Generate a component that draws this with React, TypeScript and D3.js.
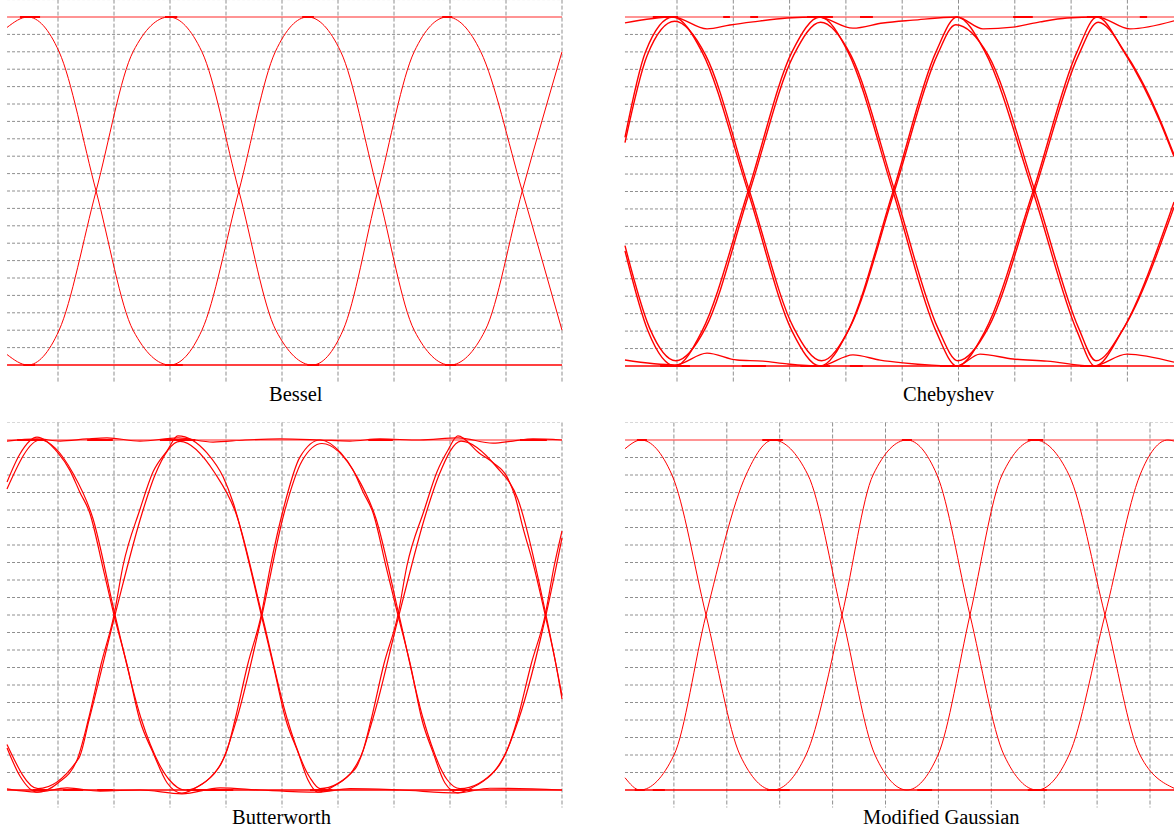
import * as d3 from "d3";

type Pt = [number, number];
type Span = [number, number];

// Eye-diagram traces. x = time in screen divisions, y = level (0 = low rail, 1 = high rail)

// Bessel
const besselA: Pt[] = [[0.09, 0.97], [0.46, 1], [1.02, 0.9], [1.68, 0.5], [2.34, 0.1], [3.0, 0], [3.57, 0.1], [4.23, 0.5], [4.88, 0.9], [5.46, 1], [6.05, 0.9], [6.71, 0.5], [7.36, 0.1], [8.0, 0], [8.63, 0.1], [9.29, 0.5], [10.0, 0.9]];
const besselB: Pt[] = [[0.09, 0.03], [0.46, 0], [1.02, 0.1], [1.68, 0.5], [2.34, 0.9], [2.98, 1], [3.57, 0.9], [4.23, 0.5], [4.89, 0.1], [5.54, 0], [6.09, 0.1], [6.71, 0.5], [7.36, 0.9], [7.95, 1], [8.55, 0.9], [9.29, 0.5], [10.0, 0.1]];
const besselMarksTop: Span[] = [[0.32, 0.68], [2.91, 3.13], [5.36, 5.57], [7.86, 8.04]];
const besselMarksBottom: Span[] = [[0.38, 0.59], [2.91, 3.23], [5.45, 5.66], [7.91, 8.11]];

// Chebyshev
const chebA: Pt[] = [[0.076, 0.655], [0.44, 0.9], [0.929, 1.0], [1.444, 0.9], [2.261, 0.5], [3.043, 0.1], [3.54, 0.0], [4.037, 0.1], [4.837, 0.5], [5.6, 0.9], [5.973, 1.0], [6.471, 0.9], [7.323, 0.5], [8.105, 0.1], [8.425, 0.0], [8.904, 0.1], [9.828, 0.47]];
const chebB: Pt[] = [[0.076, 0.33], [0.485, 0.1], [0.964, 0.0], [1.444, 0.1], [2.261, 0.5], [3.043, 0.9], [3.54, 1.0], [4.037, 0.9], [4.837, 0.5], [5.6, 0.1], [5.973, 0.0], [6.471, 0.1], [7.323, 0.5], [8.105, 0.9], [8.46, 1.0], [8.94, 0.9], [9.579, 0.7], [9.828, 0.6]];
const chebA2: Pt[] = [[0.076, 0.64], [0.47, 0.89], [0.96, 0.988], [1.51, 0.89], [2.29, 0.5], [3.07, 0.11], [3.57, 0.015], [4.07, 0.11], [4.86, 0.5], [5.62, 0.89], [5.95, 0.978], [6.53, 0.89], [7.36, 0.5], [8.13, 0.11], [8.44, 0.015], [8.94, 0.11], [9.828, 0.455]];
const chebB2: Pt[] = [[0.076, 0.345], [0.51, 0.11], [0.98, 0.015], [1.51, 0.11], [2.29, 0.5], [3.07, 0.89], [3.55, 0.985], [4.09, 0.89], [4.87, 0.5], [5.63, 0.11], [5.99, 0.015], [6.53, 0.11], [7.35, 0.5], [8.13, 0.89], [8.48, 0.985], [8.99, 0.89], [9.62, 0.69], [9.828, 0.605]];
const chebUpper: Pt[] = [[0.076, 0.983], [0.929, 1.0], [1.533, 0.966], [1.941, 0.977], [2.35, 0.986], [2.954, 0.997], [3.504, 1.0], [4.126, 0.968], [4.659, 0.983], [5.192, 0.991], [5.973, 1.0], [6.435, 0.966], [6.968, 0.971], [7.448, 0.986], [7.927, 0.997], [8.46, 1.0], [9.046, 0.966], [9.828, 0.989]];
const chebLower: Pt[] = [[0.076, 0.017], [0.964, 0.003], [1.533, 0.037], [2.066, 0.017], [2.528, 0.014], [2.954, 0.006], [3.54, 0.0], [4.126, 0.032], [4.606, 0.017], [5.014, 0.009], [5.973, 0.0], [6.382, 0.034], [6.968, 0.02], [7.572, 0.014], [8.389, 0.0], [8.993, 0.034], [9.828, 0.011]];
const chebMarksTop: Span[] = [[0.57, 1.02], [1.82, 1.94], [2.3, 2.44], [3.31, 3.77], [4.25, 4.48], [6.97, 7.32], [8.28, 8.55], [9.22, 9.35]];
const chebMarksBottom: Span[] = [[0.7, 1.23], [2.15, 2.58], [3.19, 3.72], [4.07, 4.3], [5.67, 6.2], [8.16, 8.69]];

// Butterworth
const bwA: Pt[] = [[0.09, 0.88], [0.32, 0.96], [0.625, 1.008], [1.0, 0.963], [1.21, 0.914], [1.39, 0.851], [1.57, 0.79], [1.8, 0.637], [2.0, 0.5], [2.23, 0.36], [2.46, 0.2], [2.7, 0.106], [2.95, 0.02], [3.21, -0.009], [3.54, 0.014], [3.84, 0.057], [4.02, 0.114], [4.16, 0.2], [4.39, 0.36], [4.63, 0.5], [4.79, 0.637], [5.02, 0.8], [5.32, 0.951], [5.68, 1.0], [6.05, 0.963], [6.27, 0.914], [6.45, 0.851], [6.63, 0.79], [6.86, 0.637], [7.07, 0.5], [7.29, 0.36], [7.5, 0.2], [7.7, 0.106], [7.91, 0.02], [8.14, -0.008], [8.46, 0.012], [8.8, 0.055], [9.02, 0.114], [9.2, 0.2], [9.45, 0.36], [9.7, 0.5], [9.86, 0.64], [10.0, 0.74]];
const bwB: Pt[] = [[0.09, 0.12], [0.32, 0.04], [0.625, -0.006], [1.0, 0.02], [1.34, 0.086], [1.54, 0.2], [1.77, 0.36], [2.0, 0.5], [2.16, 0.64], [2.46, 0.8], [2.7, 0.91], [2.95, 0.97], [3.14, 1.012], [3.66, 0.963], [3.95, 0.894], [4.13, 0.82], [4.43, 0.637], [4.63, 0.5], [4.84, 0.36], [5.07, 0.2], [5.29, 0.106], [5.46, 0.03], [5.64, -0.006], [5.96, 0.014], [6.27, 0.057], [6.45, 0.114], [6.59, 0.2], [6.82, 0.36], [7.07, 0.5], [7.23, 0.64], [7.54, 0.8], [7.77, 0.91], [7.96, 0.97], [8.14, 1.012], [8.52, 0.963], [8.77, 0.935], [9.02, 0.894], [9.16, 0.84], [9.3, 0.751], [9.5, 0.637], [9.7, 0.5], [9.89, 0.36], [10.0, 0.26]];
const bwA2: Pt[] = [[0.089, 0.86], [0.679, 1.0], [1.268, 0.905], [1.625, 0.775], [2.018, 0.5], [2.482, 0.205], [2.982, 0.03], [3.268, 0.0], [3.875, 0.065], [4.196, 0.205], [4.643, 0.5], [5.036, 0.79], [5.357, 0.94], [5.714, 0.99], [6.321, 0.9], [6.679, 0.775], [7.089, 0.5], [7.518, 0.205], [7.946, 0.03], [8.179, 0.004], [8.839, 0.062], [9.232, 0.205], [9.714, 0.5], [10.0, 0.72]];
const bwB2: Pt[] = [[0.089, 0.13], [0.643, 0.004], [1.375, 0.092], [1.554, 0.2], [2.018, 0.5], [2.5, 0.79], [2.732, 0.9], [3.179, 0.996], [3.804, 0.905], [4.179, 0.79], [4.643, 0.5], [5.089, 0.205], [5.5, 0.035], [5.679, 0.004], [6.304, 0.06], [6.625, 0.205], [7.089, 0.5], [7.571, 0.79], [7.804, 0.9], [8.196, 0.997], [8.821, 0.925], [9.214, 0.83], [9.714, 0.5], [10.0, 0.27]];
const bwUpper: Pt[] = [[0.089, 0.997], [0.625, 1.003], [1.036, 0.997], [1.518, 1.003], [1.875, 1.006], [2.464, 0.997], [3.143, 1.006], [3.768, 0.994], [4.339, 1.0], [4.964, 1.003], [5.679, 1.0], [6.214, 0.997], [6.75, 1.003], [7.464, 1.0], [8.143, 1.006], [8.768, 0.991], [9.125, 0.997], [9.482, 1.003], [10.0, 1.0]];
const bwLower: Pt[] = [[0.089, 0.003], [0.625, -0.006], [1.161, 0.006], [1.75, -0.003], [2.464, 0.0], [3.214, -0.011], [3.893, 0.006], [4.607, 0.0], [5.643, -0.006], [6.214, 0.004], [7.107, 0.0], [8.143, -0.008], [8.714, 0.005], [10.0, 0.0]];
const bwMarksTop: Span[] = [[0.27, 0.77], [1.52, 1.98], [2.82, 3.45], [6.54, 6.98], [9.25, 9.73]];
const bwMarksBottom: Span[] = [[0.55, 0.8], [1.09, 1.45], [1.7, 1.98], [3.3, 4.13], [5.5, 5.9], [8.0, 8.4]];

// Modified Gaussian
const mgA: Pt[] = [[0.076, 0.975], [0.378, 1.0], [0.964, 0.9], [1.607, 0.5], [2.25, 0.1], [2.873, 0.0], [3.497, 0.1], [4.178, 0.5], [4.764, 0.9], [5.406, 1.0], [5.974, 0.9], [6.597, 0.5], [7.24, 0.1], [7.864, 0.0], [8.469, 0.1], [9.149, 0.5], [9.811, 0.9], [10.34, 1.0], [10.454, 0.997]];
const mgB: Pt[] = [[0.076, 0.035], [0.359, 0.0], [1.002, 0.1], [1.607, 0.5], [2.363, 0.9], [2.873, 1.0], [3.535, 0.9], [4.178, 0.5], [4.802, 0.1], [5.406, 0.0], [5.992, 0.1], [6.597, 0.5], [7.202, 0.9], [7.826, 1.0], [8.469, 0.9], [9.149, 0.5], [9.811, 0.1], [10.454, 0.005]];
const mgMarksTop: Span[] = [[0.3, 0.49], [2.67, 3.06], [5.31, 5.5], [7.69, 7.98]];
const mgMarksBottom: Span[] = [[0.26, 0.45], [0.6, 0.83], [2.76, 3.19], [5.6, 5.88], [7.69, 8.05]];

const W = 1174;
const H = 827;
const RED = "#ff0000";
const GRID = "#8f8f8f";

const panels = [
  { name: "Bessel", traces: [besselA, besselB], top: besselMarksTop, bottom: besselMarksBottom,
    x0: 2, div: 56, t0: 0.09, t1: 10, yTop: 17, yBot: 365, lx: 269, ly: 401, lw: 1 },
  { name: "Chebyshev", traces: [chebUpper, chebLower, chebA, chebB, chebA2, chebB2], top: chebMarksTop, bottom: chebMarksBottom,
    x0: 620.7, div: 56.3, t0: 0.076, t1: 10, yTop: 17, yBot: 366, lx: 903, ly: 401, lw: 1.4 },
  { name: "Butterworth", traces: [bwUpper, bwLower, bwA, bwB, bwA2, bwB2], top: bwMarksTop, bottom: bwMarksBottom,
    x0: 2, div: 56, t0: 0.09, t1: 10, yTop: 440, yBot: 790, lx: 232, ly: 824, lw: 1.2 },
  { name: "Modified Gaussian", traces: [mgA, mgB], top: mgMarksTop, bottom: mgMarksBottom,
    x0: 621, div: 52.9, t0: 0.076, t1: 10.454, yTop: 440, yBot: 790, lx: 863, ly: 824, lw: 1 },
];

function Eye({ cfg }: { cfg: any }) {
  const x = d3.scaleLinear().domain([0, 1]).range([cfg.x0, cfg.x0 + cfg.div]);
  const y = d3.scaleLinear().domain([0, 1]).range([cfg.yBot, cfg.yTop]);
  const line = d3.line<Pt>().x(d => x(d[0])).y(d => y(d[1])).curve(d3.curveMonotoneX);

  const levels = d3.range(1, 22).map(i => i / 20).filter(v => v !== 1);
  const cols = d3.range(1, 11).filter(t => t <= cfg.t1);
  const xl = x(cfg.t0);
  const xr = x(cfg.t1);

  return (
    <g>
      {/* grid */}
      {levels.map(v => (
        <line key={"h" + v} x1={xl} x2={xr} y1={y(v)} y2={y(v)} stroke={GRID}
          strokeDasharray="3,2" strokeOpacity={v > 1 ? 0.35 : 1} />
      ))}
      {cols.map(t => (
        <line key={"v" + t} x1={x(t)} x2={x(t)} y1={y(1.05)} y2={y(-0.05)} stroke={GRID} strokeDasharray="4,2" />
      ))}

      {/* rails */}
      <line x1={xl} x2={xr} y1={y(1)} y2={y(1)} stroke={RED} strokeWidth={2} strokeOpacity={0.42} />
      <line x1={xl} x2={xr} y1={y(0)} y2={y(0)} stroke={RED} strokeWidth={1.4} />

      {cfg.traces.map((d: Pt[], i: number) => (
        <path key={i} d={line(d) || ""} fill="none" stroke={RED} strokeWidth={cfg.lw} />
      ))}

      {cfg.top.map((s: Span, i: number) => (
        <line key={"mt" + i} x1={x(s[0])} x2={x(s[1])} y1={y(1)} y2={y(1)} stroke={RED} strokeWidth={2} />
      ))}
      {cfg.bottom.map((s: Span, i: number) => (
        <line key={"mb" + i} x1={x(s[0])} x2={x(s[1])} y1={y(0)} y2={y(0)} stroke={RED} strokeWidth={2} />
      ))}

      <text x={cfg.lx} y={cfg.ly} fontFamily="'Liberation Serif', 'Times New Roman', serif" fontSize={20.5} fill="#000">
        {cfg.name}
      </text>
    </g>
  );
}

export default function App() {
  return (
    <svg width={W} height={H} style={{ position: "absolute", left: 0, top: 0, background: "#fff" }}>
      {panels.map(p => <Eye key={p.name} cfg={p} />)}
    </svg>
  );
}
